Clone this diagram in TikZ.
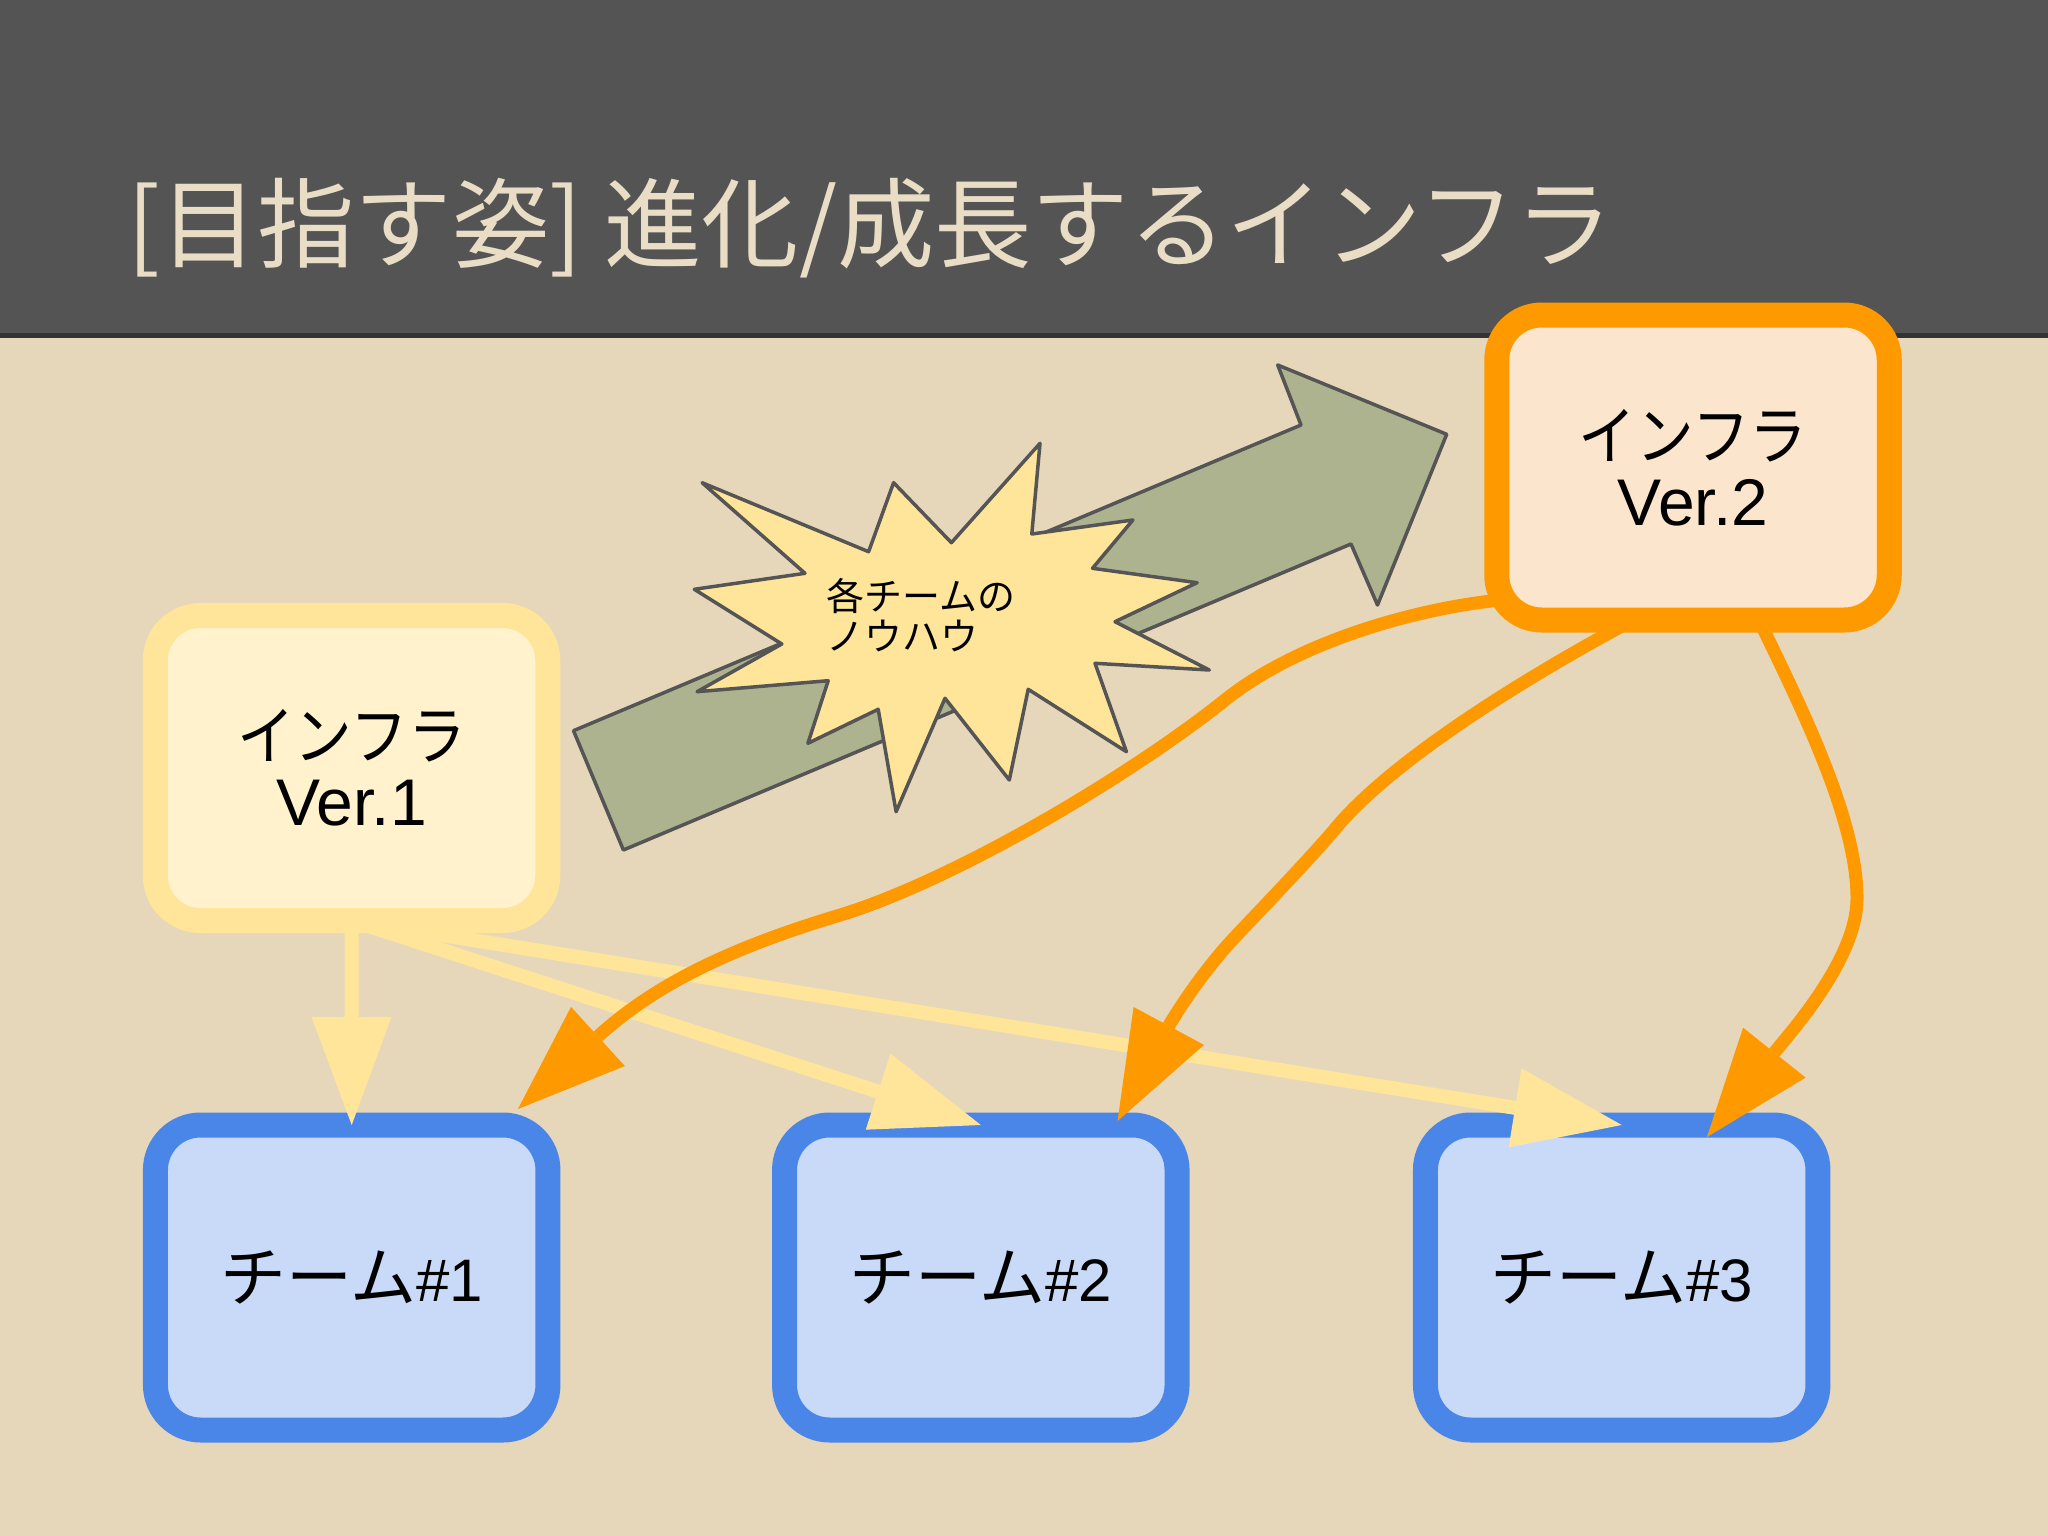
\documentclass[tikz,border=0pt]{standalone}
\usepackage{fontspec}
\setmainfont{Liberation Sans}
\newfontfamily\jp{Noto Sans CJK JP}
\usetikzlibrary{arrows.meta,calc}
\definecolor{bgbeige}{HTML}{E6D7BA}
\definecolor{headgray}{HTML}{545454}
\definecolor{headline}{HTML}{333333}
\definecolor{titlecol}{HTML}{E9DDC6}
\definecolor{vAborder}{HTML}{FFE599}
\definecolor{vAfill}{HTML}{FFF2CC}
\definecolor{vBborder}{HTML}{FF9900}
\definecolor{vBfill}{HTML}{FCE5CD}
\definecolor{tborder}{HTML}{4A86E8}
\definecolor{tfill}{HTML}{C9DAF8}
\definecolor{olive}{HTML}{ADB38F}
\definecolor{outline}{HTML}{555555}
\newcommand{\infraword}{\scalebox{0.9}[1]{\jp\fontsize{64}{66}\selectfont インフラ}}
\newcommand{\teamword}{{\jp\fontsize{66}{66}\selectfont チーム}}
\tikzset{
  boxbase/.style={rounded corners=45pt, line width=25pt, minimum width=392.5pt,
    minimum height=305pt, align=center, inner sep=0pt, outer sep=0pt},
  infraA/.style={boxbase, draw=vAborder, fill=vAfill, font=\fontsize{66}{66}\selectfont},
  infraB/.style={boxbase, draw=vBborder, fill=vBfill, font=\fontsize{66}{66}\selectfont},
  teambox/.style={boxbase, draw=tborder, fill=tfill, font=\fontsize{60}{66}\selectfont},
  bigtip/.tip={Triangle[length=108pt,width=80pt,line width=0pt]},
  yconn/.style={draw=vAborder, line width=14pt, -bigtip},
  oconn/.style={draw=vBborder, line width=13pt, -bigtip},
  growarrow/.style={draw=outline, fill=olive, line width=3.5pt, line join=round},
  burst/.style={draw=outline, fill=vAborder, line width=3.5pt, line join=round},
}
\begin{document}
\begin{tikzpicture}[x=1pt,y=-1pt]
\useasboundingbox (0,0) rectangle (2048,1536);
\fill[bgbeige] (0,0) rectangle (2048,1536);
\fill[headgray] (0,0) rectangle (2048,334);
\fill[headline] (0,333) rectangle (2048,338);

\node[anchor=base west, inner sep=0pt, text=titlecol] (title) at (127,260)
  {\resizebox{1486pt}{\height}{\jp\fontsize{98}{98}\selectfont [目指す姿] 進化/成長するインフラ}};

% growth arrow
\draw[growarrow] (573.5,730.7) -- (1301,425) -- (1277.7,365) -- (1446.7,434.3)
  -- (1377.5,605) -- (1351,544) -- (623.4,850) -- cycle;

% starburst
\draw[burst] (702.1,482.7) -- (805,573.3) -- (694.3,589.3) -- (781.8,644)
  -- (697.1,691.7) -- (828.2,680.7) -- (807.9,743.3) -- (878.2,709.3)
  -- (896.1,811.7) -- (945,698.3) -- (1009.3,780) -- (1028.2,689.3)
  -- (1126.4,751.7) -- (1095,663.3) -- (1209.3,670) -- (1115,621.7)
  -- (1197.1,582.7) -- (1092.5,568.3) -- (1132.9,520) -- (1031.8,534)
  -- (1040,443.3) -- (951.4,542.7) -- (893.6,482.7) -- (868.6,551.7) -- cycle;
\node[anchor=north west, inner sep=0pt, align=left, font=\jp\fontsize{38}{40}\selectfont]
  (know) at (826,578) {各チームの\\ノウハウ};

% boxes
\node[infraA] (v1) at (351.5,768) {\infraword\\Ver.1};
\node[infraB] (v2) at (1693,467.5) {\infraword\\Ver.2};
\node[teambox] (t1) at (351.7,1277.5) {\teamword\#1};
\node[teambox] (t2) at (980.8,1277.5) {\teamword\#2};
\node[teambox] (t3) at (1621.7,1277.5) {\teamword\#3};

% yellow connectors
\draw[yconn] (v1.south) -- (t1.north);
\draw[yconn] (v1.south) -- (t2.north);
\draw[yconn] (v1.south) -- (t3.north);

% orange connectors
\coordinate (aS) at ($(v2.south west)+(3.5,-20)$);
\coordinate (aE) at ($(t1.north east)+(-30,-16)$);
\coordinate (bS) at ($(v2.south)+(-60,0)$);
\coordinate (bE) at ($(t2.north east)+(-59.5,-4)$);
\coordinate (cS) at ($(v2.south)+(66,0)$);
\coordinate (cE) at ($(t3.north east)+(-111,12)$);
\draw[oconn] (aS) .. controls (1420,608) and (1300,640) .. (1225,700)
  .. controls (1135,772) and (957,880) .. (837,916)
  .. controls (717,952) and (648,991) .. (aE);
\draw[oconn] (bS) .. controls (1530,675) and (1400,755) .. (1340,823)
  .. controls (1318,850) and (1270,900) .. (1235,937)
  .. controls (1200,974) and (1172,1020) .. (bE);
\draw[oconn] (cS) .. controls (1800,705) and (1858,820) .. (1857,900)
  .. controls (1856,960) and (1790,1033) .. (cE);
\end{tikzpicture}
\end{document}
